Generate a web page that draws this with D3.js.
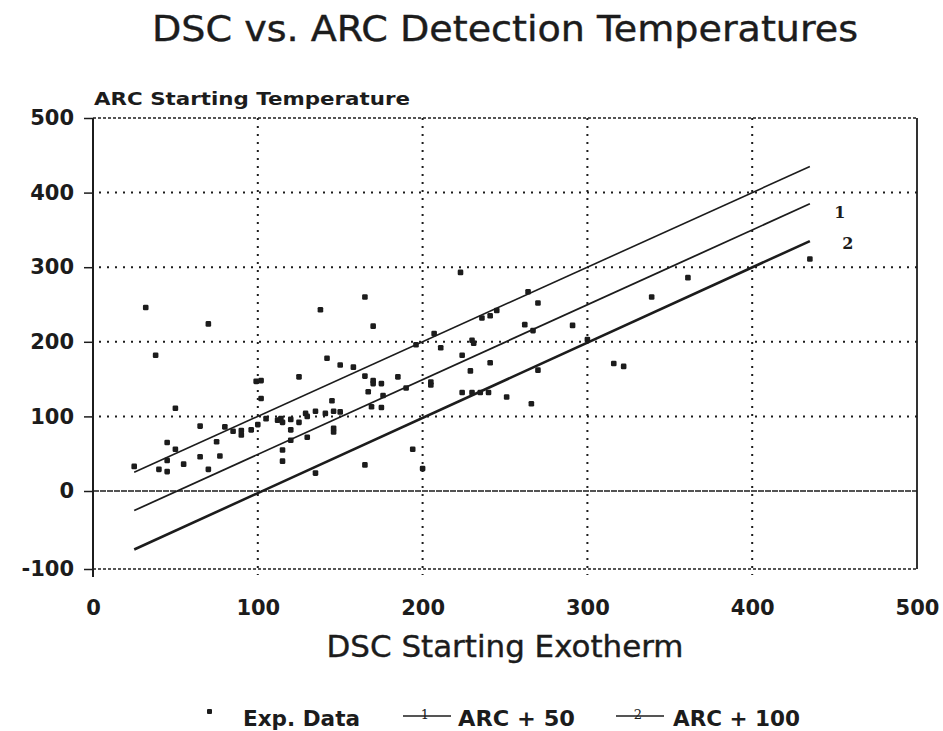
<!DOCTYPE html>
<html>
<head>
<meta charset="utf-8">
<script src="https://cdn.jsdelivr.net/npm/d3@7"></script>
<style>
  body { margin: 0; background: #fff; }
  svg { display: block; font-family: "DejaVu Sans", "Liberation Sans", Arial, sans-serif; }
</style>
</head>
<body>
<div id="chart"></div>
<script>
// data
const expX = [32, 70, 38, 50, 99, 102, 102, 65, 80, 85, 90, 90, 96, 100, 105, 114, 45, 50, 75, 25,
  40, 45, 45, 55, 65, 70, 77, 115, 115, 165, 138, 170, 142, 150, 158, 125, 165, 170, 170, 175,
  185, 167, 176, 145, 169, 175, 112, 115, 120, 125, 129, 130, 135, 141, 146, 150, 120, 120, 130, 146,
  146, 135, 165, 223, 264, 270, 236, 241, 245, 207, 196, 262, 211, 230, 231, 224, 229, 241, 270, 205,
  205, 190, 224, 230, 235, 240, 251, 266, 194, 200, 291, 339, 316, 322, 300, 361, 435, 267];
const expY = [246, 224, 182, 111, 147, 148, 124, 87, 86, 80, 81, 75, 82, 89, 97, 97, 65, 56, 66, 33,
  29, 26, 41, 36, 46, 29, 47, 55, 40, 260, 243, 221, 178, 169, 166, 153, 154, 148, 144, 144,
  153, 133, 128, 121, 113, 112, 95, 92, 96, 92, 104, 100, 107, 104, 107, 106, 82, 68, 72, 84,
  79, 24, 35, 293, 267, 252, 232, 235, 242, 211, 196, 223, 192, 202, 198, 182, 161, 172, 162, 146,
  142, 138, 132, 132, 132, 132, 126, 117, 56, 30, 222, 260, 171, 167, 203, 286, 311, 215];

const lineX = [25, 435];
const baseY = [25, 435];
const arc50Y = [-25, 385];
const arc100Y = [-75, 335];

const xTicks = [0, 100, 200, 300, 400, 500];
const yTicks = [-100, 0, 100, 200, 300, 400, 500];

const width = 943, height = 731;
const INK = '#1c1c1c';
const FONT = '"DejaVu Sans", "Liberation Sans", Arial, sans-serif';

const x = d3.scaleLinear().domain([0, 500]).range([93, 917]);
// scanned axis is slightly uneven below zero
const y = d3.scaleLinear().domain([-100, 0, 500]).range([569, 491, 118]);

const svg = d3.select('#chart').append('svg')
  .attr('width', width)
  .attr('height', height)
  .attr('viewBox', [0, 0, width, height]);

// title
svg.append('text')
  .attr('x', 505).attr('y', 41)
  .attr('text-anchor', 'middle')
  .attr('font-size', 35)
  .attr('textLength', 706)
  .attr('lengthAdjust', 'spacingAndGlyphs')
  .attr('fill', INK)
  .attr('stroke', INK).attr('stroke-width', 0.4)
  .text('DSC vs. ARC Detection Temperatures');

svg.append('text')
  .attr('x', 94).attr('y', 105)
  .attr('font-size', 18).attr('font-weight', 'bold')
  .attr('textLength', 316)
  .attr('lengthAdjust', 'spacingAndGlyphs')
  .attr('fill', INK)
  .text('ARC Starting Temperature');

// dotted grid
const grid = svg.append('g')
  .attr('stroke', INK)
  .attr('stroke-width', 2)
  .attr('stroke-dasharray', '2 6');

grid.selectAll('.gy')
  .data(yTicks.filter(d => d > 0 && d < 500))
  .join('line')
    .attr('x1', x(0) + 6).attr('x2', x(500))
    .attr('y1', d => y(d)).attr('y2', d => y(d));

grid.selectAll('.gx')
  .data(xTicks.filter(d => d > 0 && d < 500))
  .join('line')
    .attr('x1', d => x(d)).attr('x2', d => x(d))
    .attr('y1', y(500)).attr('y2', y(-100) + 6);

// frame: top and bottom dashed, zero line nearly solid
svg.append('line')
  .attr('x1', x(0)).attr('x2', x(500))
  .attr('y1', y(500)).attr('y2', y(500))
  .attr('stroke', INK).attr('stroke-width', 1.3)
  .attr('stroke-dasharray', '3 2');
svg.append('line')
  .attr('x1', x(0)).attr('x2', x(500))
  .attr('y1', y(-100)).attr('y2', y(-100))
  .attr('stroke', INK).attr('stroke-width', 1.3)
  .attr('stroke-dasharray', '3 2');
svg.append('line')
  .attr('x1', x(0)).attr('x2', x(500))
  .attr('y1', y(0)).attr('y2', y(0))
  .attr('stroke', INK).attr('stroke-width', 1.4)
  .attr('stroke-dasharray', '6 1');
svg.append('line')
  .attr('x1', x(500)).attr('x2', x(500))
  .attr('y1', y(500)).attr('y2', y(-100))
  .attr('stroke', INK).attr('stroke-width', 1.8);

// y axis
const yAxis = svg.append('g')
  .attr('transform', `translate(${x(0)},0)`)
  .call(d3.axisLeft(y).tickValues(yTicks).tickSize(9).tickPadding(10));
yAxis.select('.domain').remove();
yAxis.selectAll('.tick line').attr('stroke', INK).attr('stroke-width', 1.5);
yAxis.selectAll('.tick text')
  .attr('font-size', 21).attr('font-weight', 'bold')
  .attr('font-family', FONT)
  .attr('fill', INK)
  .text(d => d < 0 ? '-' + Math.abs(d) : d);
svg.append('line')
  .attr('x1', x(0)).attr('x2', x(0))
  .attr('y1', y(500)).attr('y2', y(-100) + 8)
  .attr('stroke', INK).attr('stroke-width', 2);

// x axis
const xAxis = svg.append('g')
  .attr('transform', `translate(0,${y(-100)})`)
  .call(d3.axisBottom(x).tickValues(xTicks).tickSize(0).tickPadding(31));
xAxis.select('.domain').remove();
xAxis.selectAll('.tick text')
  .attr('font-size', 21).attr('font-weight', 'bold')
  .attr('font-family', FONT)
  .attr('fill', INK);

svg.append('text')
  .attr('x', 505).attr('y', 657)
  .attr('text-anchor', 'middle')
  .attr('font-size', 30)
  .attr('textLength', 357)
  .attr('lengthAdjust', 'spacingAndGlyphs')
  .attr('fill', INK)
  .attr('stroke', INK).attr('stroke-width', 0.4)
  .text('DSC Starting Exotherm');

// reference lines
const line = d3.line().x(d => x(d[0])).y(d => y(d[1]));
const refLines = [
  { ys: baseY, w: 1.6, label: null },
  { ys: arc50Y, w: 1.8, label: '1', dx: 30, dy: 14 },
  { ys: arc100Y, w: 2.6, label: '2', dx: 38, dy: 8 }
];
refLines.forEach(r => {
  const pts = lineX.map((v, i) => [v, r.ys[i]]);
  svg.append('path')
    .attr('d', line(pts))
    .attr('fill', 'none')
    .attr('stroke', INK)
    .attr('stroke-width', r.w);
  if (r.label) {
    svg.append('text')
      .attr('x', x(lineX[1]) + r.dx)
      .attr('y', y(r.ys[1]) + r.dy)
      .attr('text-anchor', 'middle')
      .attr('font-family', '"DejaVu Serif", "Liberation Serif", serif')
      .attr('font-weight', 'bold')
      .attr('font-size', 16)
      .attr('fill', INK)
      .text(r.label);
  }
});

// experimental points
svg.append('g')
  .attr('fill', INK)
  .selectAll('rect')
  .data(expX.map((v, i) => [v, expY[i]]))
  .join('rect')
    .attr('x', d => x(d[0]) - 2.8)
    .attr('y', d => y(d[1]) - 2.8)
    .attr('width', 5.6)
    .attr('height', 5.6)
    .attr('rx', 1.3);

// legend
const legend = svg.append('g').attr('fill', INK);
legend.append('rect')
  .attr('x', 207).attr('y', 709).attr('width', 5).attr('height', 5).attr('rx', 1);
legend.append('text')
  .attr('x', 243).attr('y', 726)
  .attr('font-size', 21).attr('font-weight', 'bold')
  .attr('textLength', 117).attr('lengthAdjust', 'spacingAndGlyphs')
  .text('Exp. Data');

const legendItems = [
  { x0: 403, label: '1', text: 'ARC + 50', tx: 458, w: 117 },
  { x0: 616, label: '2', text: 'ARC + 100', tx: 673, w: 127 }
];
legendItems.forEach(l => {
  legend.append('line')
    .attr('x1', l.x0).attr('x2', l.x0 + 48)
    .attr('y1', 716).attr('y2', 716)
    .attr('stroke', INK).attr('stroke-width', 1.6);
  legend.append('text')
    .attr('x', l.x0 + 22).attr('y', 719)
    .attr('text-anchor', 'middle')
    .attr('font-family', '"DejaVu Serif", serif')
    .attr('font-size', 13)
    .text(l.label);
  legend.append('text')
    .attr('x', l.tx).attr('y', 726)
    .attr('font-size', 21).attr('font-weight', 'bold')
    .attr('textLength', l.w).attr('lengthAdjust', 'spacingAndGlyphs')
    .text(l.text);
});
</script>
</body>
</html>
